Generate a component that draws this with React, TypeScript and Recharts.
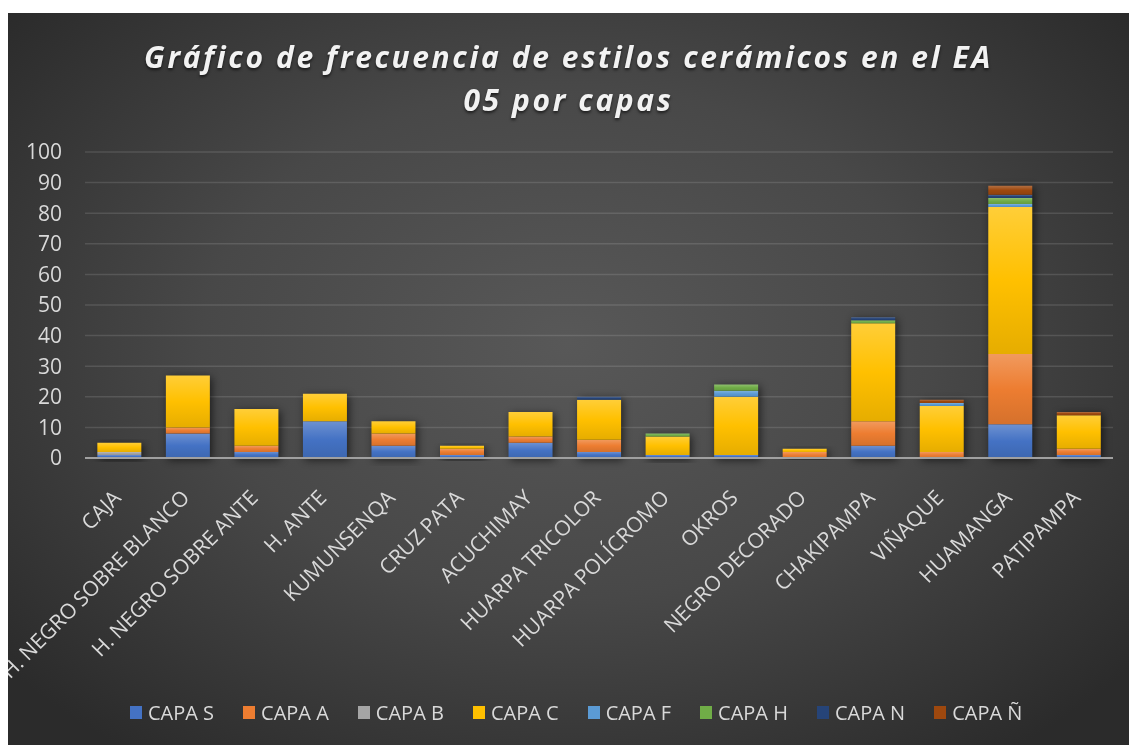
import React from 'react';
import { BarChart, Bar, XAxis, YAxis, CartesianGrid } from 'recharts';

// Estilos cerámicos (eje X)
const categories = [
  'CAJA',
  'H. NEGRO SOBRE BLANCO',
  'H. NEGRO SOBRE ANTE',
  'H. ANTE',
  'KUMUNSENQA',
  'CRUZ PATA',
  'ACUCHIMAY',
  'HUARPA TRICOLOR',
  'HUARPA POLÍCROMO',
  'OKROS',
  'NEGRO DECORADO',
  'CHAKIPAMPA',
  'VIÑAQUE',
  'HUAMANGA',
  'PATIPAMPA',
];

// Frecuencia por capa
const capaS = [1, 8, 2, 12, 4, 1, 5, 2, 1, 1, 0, 4, 0, 11, 1];
const capaA = [0, 2, 2, 0, 4, 2, 2, 4, 0, 0, 2, 8, 2, 23, 2];
const capaB = [1, 0, 0, 0, 0, 0, 0, 0, 0, 0, 0, 0, 0, 0, 0];
const capaC = [3, 17, 12, 9, 4, 1, 8, 13, 6, 19, 1, 32, 15, 48, 11];
const capaF = [0, 0, 0, 0, 0, 0, 0, 0, 0, 2, 0, 0, 1, 1, 0];
const capaH = [0, 0, 0, 0, 0, 0, 0, 0, 1, 2, 0, 1, 0, 2, 0];
const capaN = [0, 0, 0, 0, 0, 0, 0, 1, 0, 0, 0, 1, 0, 1, 0];
const capaNn = [0, 0, 0, 0, 0, 0, 0, 0, 0, 0, 0, 0, 1, 3, 1];

const yTicks = [0, 10, 20, 30, 40, 50, 60, 70, 80, 90, 100];

const series = [
  { key: 'capaS', name: 'CAPA S', color: '#4472C4', values: capaS },
  { key: 'capaA', name: 'CAPA A', color: '#ED7D31', values: capaA },
  { key: 'capaB', name: 'CAPA B', color: '#A5A5A5', values: capaB },
  { key: 'capaC', name: 'CAPA C', color: '#FFC000', values: capaC },
  { key: 'capaF', name: 'CAPA F', color: '#5B9BD5', values: capaF },
  { key: 'capaH', name: 'CAPA H', color: '#70AD47', values: capaH },
  { key: 'capaN', name: 'CAPA N', color: '#264478', values: capaN },
  { key: 'capaNn', name: 'CAPA Ñ', color: '#9E480E', values: capaNn },
];

const rows = categories.map((name, i) => {
  const row: Record<string, string | number> = { name };
  let total = 0;
  series.forEach((s) => {
    row[s.key] = s.values[i];
    total += s.values[i];
  });
  row.total = total;
  return row;
});

// mezcla un color hex hacia blanco (255) o negro (0)
const mix = (hex: string, target: number, t: number) => {
  const n = parseInt(hex.slice(1), 16);
  const c = [n >> 16, (n >> 8) & 255, n & 255].map((v) => Math.round(v + (target - v) * t));
  return `rgb(${c.join(',')})`;
};

const AngledTick = (props: any) => {
  const { x, y, payload } = props;
  const ax = x + 3;
  const ay = y + 33;
  return (
    <text
      x={ax}
      y={ay}
      textAnchor="end"
      fill="#d9d9d9"
      fontSize={21}
      wordSpacing={-1}
      fontFamily='"Open Sans", sans-serif'
      transform={`rotate(-45, ${ax}, ${ay})`}
    >
      {payload.value}
    </text>
  );
};

const ShadowBar = (p: any) => (
  <rect x={p.x} y={p.y} width={p.width} height={p.height} fill="#000" opacity={0.6} filter="url(#barShadow)" />
);

export default function App() {
  return (
    <div
      style={{
        position: 'fixed',
        left: 8,
        top: 13,
        width: 1121,
        height: 732,
        background: 'radial-gradient(ellipse 65% 70% at 50% 45%, #585858 0%, #484848 50%, #2b2b2b 100%)',
        fontFamily: '"Open Sans", sans-serif',
        overflow: 'hidden',
      }}
    >
      <div
        style={{
          position: 'absolute',
          top: 22,
          left: 0,
          width: '100%',
          textAlign: 'center',
          color: '#f2f2f2',
          fontSize: 30,
          fontWeight: 700,
          fontStyle: 'italic',
          letterSpacing: 2.6,
          lineHeight: '43px',
          textShadow: '0 2px 3px rgba(0,0,0,0.6)',
        }}
      >
        Gráfico de frecuencia de estilos cerámicos en el EA
        <br />
        05 por capas
      </div>

      <BarChart
        width={1121}
        height={732}
        data={rows}
        margin={{ top: 139, right: 16, left: 0, bottom: 0 }}
        barCategoryGap="18%"
      >
        <defs>
          <filter id="barShadow" x="-50%" y="-20%" width="200%" height="140%">
            <feOffset dx="2" dy="2" />
            <feGaussianBlur stdDeviation="4" />
          </filter>
          {series.map((s) => (
            <linearGradient key={s.key} id={`grad-${s.key}`} x1="0" y1="0" x2="0" y2="1">
              <stop offset="0%" stopColor={mix(s.color, 255, 0.22)} />
              <stop offset="50%" stopColor={s.color} />
              <stop offset="100%" stopColor={mix(s.color, 0, 0.1)} />
            </linearGradient>
          ))}
        </defs>
        <CartesianGrid vertical={false} stroke="rgba(255,255,255,0.12)" strokeWidth={1.5} />
        <XAxis
          dataKey="name"
          interval={0}
          height={287}
          tick={<AngledTick />}
          tickLine={false}
          axisLine={{ stroke: '#a0a0a0', strokeWidth: 2 }}
        />
        <XAxis xAxisId="shade" dataKey="name" hide />
        <YAxis
          domain={[0, 100]}
          ticks={yTicks}
          interval={0}
          width={77}
          axisLine={false}
          tickLine={false}
          tickMargin={17}
          tick={{ fill: '#d9d9d9', fontSize: 21 }}
        />
        <Bar xAxisId="shade" dataKey="total" shape={ShadowBar} isAnimationActive={false} />
        {series.map((s) => (
          <Bar
            key={s.key}
            dataKey={s.key}
            name={s.name}
            stackId="capas"
            fill={`url(#grad-${s.key})`}
            isAnimationActive={false}
          />
        ))}
      </BarChart>

      <div
        style={{
          position: 'absolute',
          top: 686,
          left: 122,
          display: 'flex',
          alignItems: 'center',
          gap: 29,
          color: '#d9d9d9',
          fontSize: 20,
        }}
      >
        {series.map((s) => (
          <div key={s.key} style={{ display: 'flex', alignItems: 'center', gap: 6 }}>
            <span style={{ display: 'inline-block', width: 12, height: 13, background: s.color }} />
            <span>{s.name}</span>
          </div>
        ))}
      </div>
    </div>
  );
}
